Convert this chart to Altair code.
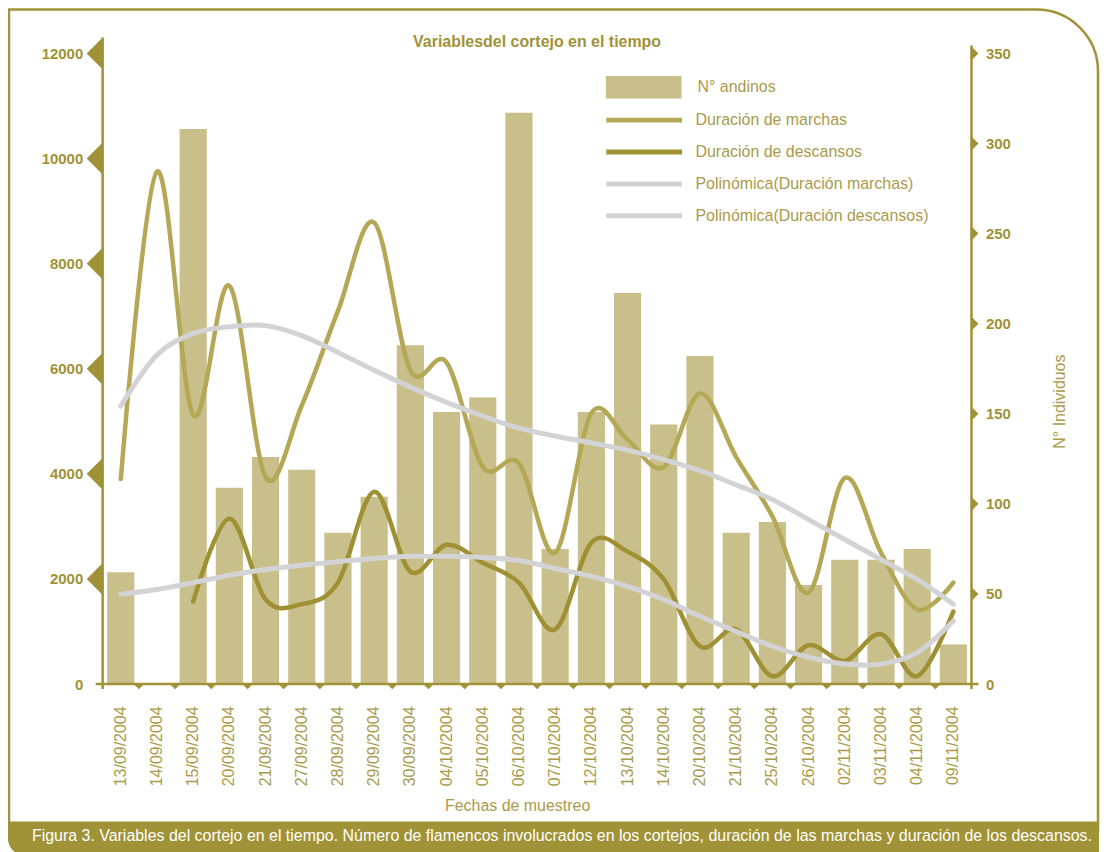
import altair as alt
import pandas as pd

# ---------------- data ----------------
fechas = ["13/09/2004", "14/09/2004", "15/09/2004", "20/09/2004", "21/09/2004",
          "27/09/2004", "28/09/2004", "29/09/2004", "30/09/2004", "04/10/2004",
          "05/10/2004", "06/10/2004", "07/10/2004", "12/10/2004", "13/10/2004",
          "14/10/2004", "20/10/2004", "21/10/2004", "25/10/2004", "26/10/2004",
          "02/11/2004", "03/11/2004", "04/11/2004", "09/11/2004"]

andinos = [62, 0, 308, 109, 126, 119, 84, 104, 188, 151, 159, 317, 75, 151,
           217, 144, 182, 84, 90, 55, 69, 69, 75, 22]

marchas = [3900, 9750, 5120, 7580, 3940, 5300, 7100, 8780, 5970, 6120, 4130,
           4200, 2500, 5150, 4650, 4130, 5530, 4320, 3190, 1740, 3920, 2500,
           1420, 1930]

descansos = [None, None, 1570, 3150, 1610, 1520, 1930, 3660, 2140, 2650, 2310,
             1930, 1040, 2690, 2520, 1990, 720, 1040, 150, 740, 440, 950, 150,
             1380]

poli_marchas = [5290, 6260, 6670, 6800, 6820, 6630, 6310, 5970, 5650, 5360,
                5100, 4870, 4720, 4590, 4450, 4270, 4060, 3790, 3510, 3130,
                2750, 2370, 1990, 1520]

poli_descansos = [1710, 1800, 1930, 2070, 2180, 2260, 2330, 2390, 2430, 2430,
                  2410, 2350, 2200, 2050, 1860, 1610, 1290, 1000, 720, 510,
                  380, 380, 600, 1200]

ticks_izq = [2000, 4000, 6000, 8000, 10000, 12000]
ticks_der = [50, 100, 150, 200, 250, 300, 350]

serie_barras = "N° andinos"
series_lineas = ["Duración de marchas", "Duración de descansos",
                 "Polinómica(Duración marchas)", "Polinómica(Duración descansos)"]

titulo = "Variablesdel cortejo en el tiempo"
eje_x = "Fechas de muestreo"
eje_der = "N° Individuos"
leyenda_fig = ("Figura 3. Variables del cortejo en el tiempo. Número de flamencos "
               "involucrados en los cortejos, duración de las marchas y duración "
               "de los descansos.")

# ---------------- styling ----------------
FONT = "Liberation Sans"
OLIVE = "#a09236"
TXT = "#a99b4a"
BAR = "#c8bf8b"
C_MAR = "#b4a756"
C_DES = "#9f9033"
GRAY = "#d3d3d6"
W, H = 872, 633

df_b = pd.DataFrame({"fecha": fechas, "valor": andinos, "serie": serie_barras})
rows = []
for name, vals in zip(series_lineas, [marchas, descansos, poli_marchas, poli_descansos]):
    for f, v in zip(fechas, vals):
        if v is not None:
            rows.append({"fecha": f, "valor": v, "serie": name})
df_l = pd.DataFrame(rows)
df_olive = df_l[df_l.serie.isin(series_lineas[:2])]
df_gray = df_l[df_l.serie.isin(series_lineas[2:])]

xscale = alt.Scale(domain=fechas, paddingInner=0.25, paddingOuter=0.125)
yL = alt.Scale(domain=[0, 12000], nice=False)
yR = alt.Scale(domain=[0, 350], nice=False)
stroke_scale = alt.Scale(domain=series_lineas, range=[C_MAR, C_DES, GRAY, GRAY])

x_axis = alt.Axis(labelAngle=-90, labelColor=TXT, labelFont=FONT,
                  labelFontSize=16, labelPadding=22, ticks=False, grid=False,
                  domain=False, titleFont=FONT, titleFontSize=16,
                  titleFontWeight="normal", titleColor=TXT,
                  titleX=416, titleY=122, titleBaseline="middle",
                  titleAlign="center")


def xenc(field):
    return alt.X(field, sort=fechas, scale=xscale, title=eje_x, axis=x_axis)


one = pd.DataFrame({"k": [0]})

# frame
frame = alt.Chart(one).mark_rect(fillOpacity=0, stroke=OLIVE, strokeWidth=2.5,
                                 cornerRadiusTopRight=62).encode(
    x=alt.value(-94), x2=alt.value(999), y=alt.value(-44), y2=alt.value(780))
caption_bar = alt.Chart(one).mark_rect(fill=OLIVE, cornerRadiusBottomLeft=22).encode(
    x=alt.value(-95), x2=alt.value(1000), y=alt.value(771), y2=alt.value(805))
caption = alt.Chart(one).mark_text(align="left", baseline="middle", color="white",
                                   font=FONT, fontSize=16).encode(
    x=alt.value(-71), y=alt.value(786), text=alt.value(leyenda_fig))
title_t = alt.Chart(one).mark_text(align="center", baseline="middle", color=OLIVE,
                                   font=FONT, fontSize=16, fontWeight="bold").encode(
    x=alt.value(436), y=alt.value(-11), text=alt.value(titulo))

# bars (right axis)
bars = alt.Chart(df_b).mark_bar(color=BAR).encode(
    x=xenc("fecha:N"),
    y=alt.Y("valor:Q", scale=yR, title=eje_der,
            axis=alt.Axis(orient="right", values=[0] + ticks_der, grid=False,
                          ticks=False, domain=False, labelColor=OLIVE,
                          labelFont=FONT, labelFontSize=15, labelFontWeight="bold",
                          labelPadding=14, format="d", titleFont=FONT,
                          titleFontSize=16, titleFontWeight="normal",
                          titleColor=TXT, titleAngle=270, titleX=88, titleY=349,
                          titleAlign="center", titleBaseline="middle")),
    fill=alt.Fill("serie:N", scale=alt.Scale(domain=[serie_barras], range=[BAR]),
                  legend=alt.Legend(title=None, orient="none", legendX=505,
                                    legendY=-4,
                                    symbolType="M-1,-0.3L1,-0.3L1,0.3L-1,0.3Z",
                                    symbolSize=5776, symbolStrokeWidth=0,
                                    symbolOpacity=1, labelFont=FONT,
                                    labelFontSize=16, labelColor=TXT,
                                    labelOffset=16, labelLimit=400)),
)

olive_lines = alt.Chart(df_olive).mark_line(interpolate="cardinal", strokeWidth=4.5,
                                            strokeCap="round").encode(
    x=xenc("fecha:N"),
    y=alt.Y("valor:Q", scale=yL,
            axis=alt.Axis(orient="left", values=[0] + ticks_izq, grid=False,
                          ticks=False, domain=False, labelColor=OLIVE,
                          labelFont=FONT, labelFontSize=15, labelFontWeight="bold",
                          labelPadding=20, format="d", title=None)),
    stroke=alt.Stroke("serie:N", scale=stroke_scale,
                      legend=alt.Legend(title=None, orient="none", legendX=503,
                                        legendY=57, symbolType="stroke",
                                        symbolSize=5776, symbolStrokeWidth=5,
                                        clipHeight=20, rowPadding=12,
                                        labelFont=FONT, labelFontSize=16,
                                        labelColor=TXT, labelOffset=11,
                                        labelLimit=400)),
    detail="serie:N",
)

gray_lines = alt.Chart(df_gray).mark_line(interpolate="cardinal", strokeWidth=5,
                                          strokeCap="round").encode(
    x=xenc("fecha:N"),
    y=alt.Y("valor:Q", scale=yL, axis=None),
    stroke=alt.Stroke("serie:N", scale=stroke_scale),
    detail="serie:N",
)

# axis lines
axis_lines = alt.layer(
    alt.Chart(one).mark_rule(color=OLIVE, strokeWidth=2.5).encode(
        x=alt.value(0), y=alt.value(-16), y2=alt.value(638)),
    alt.Chart(one).mark_rule(color=OLIVE, strokeWidth=2.5).encode(
        x=alt.value(W), y=alt.value(-8), y2=alt.value(638)),
    alt.Chart(one).mark_rule(color=OLIVE, strokeWidth=2.5).encode(
        x=alt.value(-7), x2=alt.value(W + 7), y=alt.value(H)),
)

left_marks = alt.Chart(pd.DataFrame({"v": ticks_izq})).mark_point(
    shape="M0,-1L-1,0L0,1Z", size=1024, filled=True, color=OLIVE, opacity=1,
    strokeWidth=0).encode(
    x=alt.value(0), y=alt.Y("v:Q", scale=yL, axis=None))

right_marks = alt.Chart(pd.DataFrame({"v": ticks_der})).mark_point(
    shape="M0,-1L1,0L0,1Z", size=196, filled=True, color=OLIVE, opacity=1,
    strokeWidth=0).encode(
    x=alt.value(W), y=alt.Y("v:Q", scale=yR, axis=None))

bottom_marks = alt.Chart(pd.DataFrame({"fecha": fechas[1:]})).mark_point(
    shape="M-1,0L1,0L0,1Z", size=110, filled=True, color=OLIVE, opacity=1,
    strokeWidth=0).encode(
    x=alt.X("fecha:N", sort=fechas, scale=xscale, title=eje_x, axis=x_axis,
            bandPosition=0),
    xOffset=alt.value(-4.5), y=alt.value(H))

chart = alt.layer(
    frame, caption_bar, caption, title_t,
    bars, olive_lines, gray_lines, axis_lines, left_marks, right_marks, bottom_marks,
).resolve_scale(y="independent").properties(
    width=W, height=H,
    autosize=alt.AutoSizeParams(type="none"),
    padding={"left": 95, "top": 44, "right": 130, "bottom": 167},
).configure(font=FONT, background="white",
            view=alt.ViewConfig(strokeWidth=0, stroke="transparent"))

chart.save("out.html", embed_options={"renderer": "svg", "actions": False})
